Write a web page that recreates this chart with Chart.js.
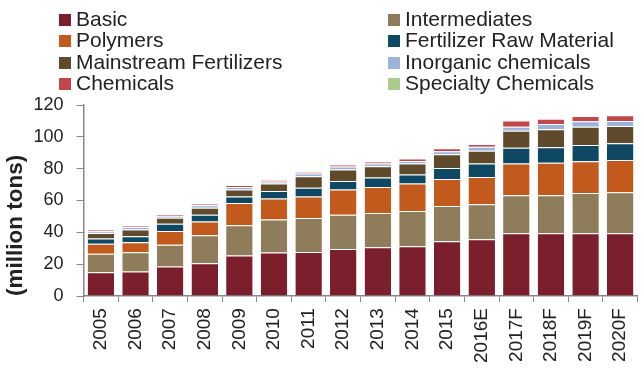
<!DOCTYPE html>
<html lang="en">

<head>
    <meta charset="UTF-8">
    <meta name="viewport" content="width=device-width, initial-scale=1.0">
    <script src="https://cdn.jsdelivr.net/npm/chart.js"></script>
    <title>Chemicals output</title>
    <style>
        body {
            margin: 0;
            width: 644px;
            height: 369px;
            overflow: hidden;
            background: #fff;
            font-family: "Liberation Sans", Arial, sans-serif;
        }

        #wrap {
            position: absolute;
            left: 0;
            top: 0;
            width: 649px;
            height: 369px;
        }

        #legend {
            position: absolute;
            left: 0;
            top: 0;
            width: 644px;
            height: 100px;
        }

        .item {
            position: absolute;
            font-size: 21px;
            line-height: 21.3px;
            color: #222;
            white-space: nowrap;
        }

        .item span {
            display: inline-block;
            width: 12px;
            height: 12px;
            margin-right: 5px;
        }
    </style>
</head>

<body>
    <div id="wrap"><canvas id="chart" width="649" height="369"></canvas></div>
    <div id="legend"></div>
</body>

<script>
    const years = ['2005', '2006', '2007', '2008', '2009', '2010', '2011', '2012', '2013', '2014', '2015', '2016E', '2017F', '2018F', '2019F', '2020F'];

    // million tons per segment
    const basic = [15, 15.5, 18.5, 20.6, 25.4, 27.3, 27.7, 29.6, 30.7, 31.3, 34.4, 35.7, 39.5, 39.5, 39.5, 39.5];
    const intermediates = [11.5, 12, 13.7, 17.6, 19, 20.8, 21.3, 21.5, 21.4, 22.1, 22.1, 21.9, 23.8, 23.8, 25.2, 25.7];
    const polymers = [6.3, 6.3, 8.6, 8.7, 14, 13.1, 13.6, 15.8, 16.4, 17.3, 17.1, 17.2, 20, 20.4, 20, 20.2];
    const fertRaw = [3.3, 3.8, 4.6, 4.2, 4.2, 4.8, 5.5, 5.4, 5.9, 5.6, 6.9, 8.5, 9.8, 9.7, 10.1, 10.5];
    const mainstream = [3.5, 4.2, 3.8, 4.4, 4.3, 4.7, 7.2, 7.2, 7.2, 7.0, 8.5, 7.9, 10.8, 11.3, 11.6, 10.9];
    const inorganic = [1.1, 1.5, 1.3, 1.5, 1.6, 1.2, 1.7, 1.9, 1.7, 1.6, 1.9, 2.6, 2.5, 3.4, 3.4, 3.2];
    const chemicals = [0.8, 0.9, 0.8, 1.0, 1.1, 1.0, 1.0, 1.2, 1.2, 1.5, 2.0, 1.7, 3.8, 3.3, 3.3, 3.6];
    const specialty = [0, 0, 0, 0, 0, 0, 0, 0, 0, 0, 0, 0, 0, 0, 0, 0];

    const yTicks = [0, 20, 40, 60, 80, 100, 120];

    const series = [
        { label: 'Basic', data: basic, color: '#7a1f2b' },
        { label: 'Intermediates', data: intermediates, color: '#8f7c5b' },
        { label: 'Polymers', data: polymers, color: '#c15a1c' },
        { label: 'Fertilizer Raw Material', data: fertRaw, color: '#0f4862' },
        { label: 'Mainstream Fertilizers', data: mainstream, color: '#5f4a2b' },
        { label: 'Inorganic chemicals', data: inorganic, color: '#9db3da' },
        { label: 'Chemicals', data: chemicals, color: '#c2474a' },
        { label: 'Specialty Chemicals', data: specialty, color: '#a9cb8b' }
    ];

    // legend: two columns, left one takes the even entries
    let legend = document.getElementById('legend');
    series.forEach(function (s, i) {
        let div = document.createElement('div');
        div.className = 'item';
        div.style.left = (i % 2 == 0 ? 59 : 388) + 'px';
        div.style.top = (8 + Math.floor(i / 2) * 21.3) + 'px';
        div.innerHTML = "<span style='background:" + s.color + "'></span>" + s.label;
        legend.appendChild(div);
    });

    let ctx = document.getElementById('chart').getContext('2d');
    new Chart(ctx, {
        type: 'bar',
        data: {
            labels: years,
            datasets: series.map(function (s) {
                return {
                    label: s.label,
                    data: s.data,
                    backgroundColor: s.color,
                    // faint light seam on top of each segment
                    borderColor: 'rgba(255,255,255,0.3)',
                    borderWidth: { top: 1, left: 0, right: 0, bottom: 0 },
                    borderSkipped: false,
                    categoryPercentage: 1,
                    barPercentage: 0.765
                };
            })
        },
        options: {
            responsive: false,
            animation: false,
            layout: {
                padding: { top: 105, left: 2, right: 0, bottom: 0 }
            },
            plugins: {
                legend: { display: false },
                tooltip: { enabled: false }
            },
            scales: {
                x: {
                    stacked: true,
                    grid: { drawOnChartArea: false, tickLength: 6, color: '#888' },
                    border: { color: '#888', width: 1.5 },
                    ticks: {
                        minRotation: 90,
                        maxRotation: 90,
                        color: '#222',
                        padding: 6,
                        font: { family: 'Liberation Sans', size: 19 }
                    }
                },
                y: {
                    stacked: true,
                    min: 0,
                    max: 120,
                    afterBuildTicks: function (axis) {
                        axis.ticks = yTicks.map(function (v) { return { value: v }; });
                    },
                    // fixed width so the axis line sits at x = 83.6
                    afterFit: function (axis) {
                        axis.width = 81.6;
                    },
                    grid: { drawOnChartArea: false, tickLength: 7, color: '#888' },
                    border: { color: '#888', width: 1.5 },
                    ticks: {
                        color: '#222',
                        padding: 13,
                        font: { family: 'Liberation Sans', size: 18 }
                    },
                    title: {
                        display: true,
                        text: '(million tons)',
                        align: 'start',
                        color: '#222',
                        padding: { top: 0, bottom: 0 },
                        font: { family: 'Liberation Sans', size: 22.5, weight: 'bold' }
                    }
                }
            }
        }
    });
</script>

</html>
